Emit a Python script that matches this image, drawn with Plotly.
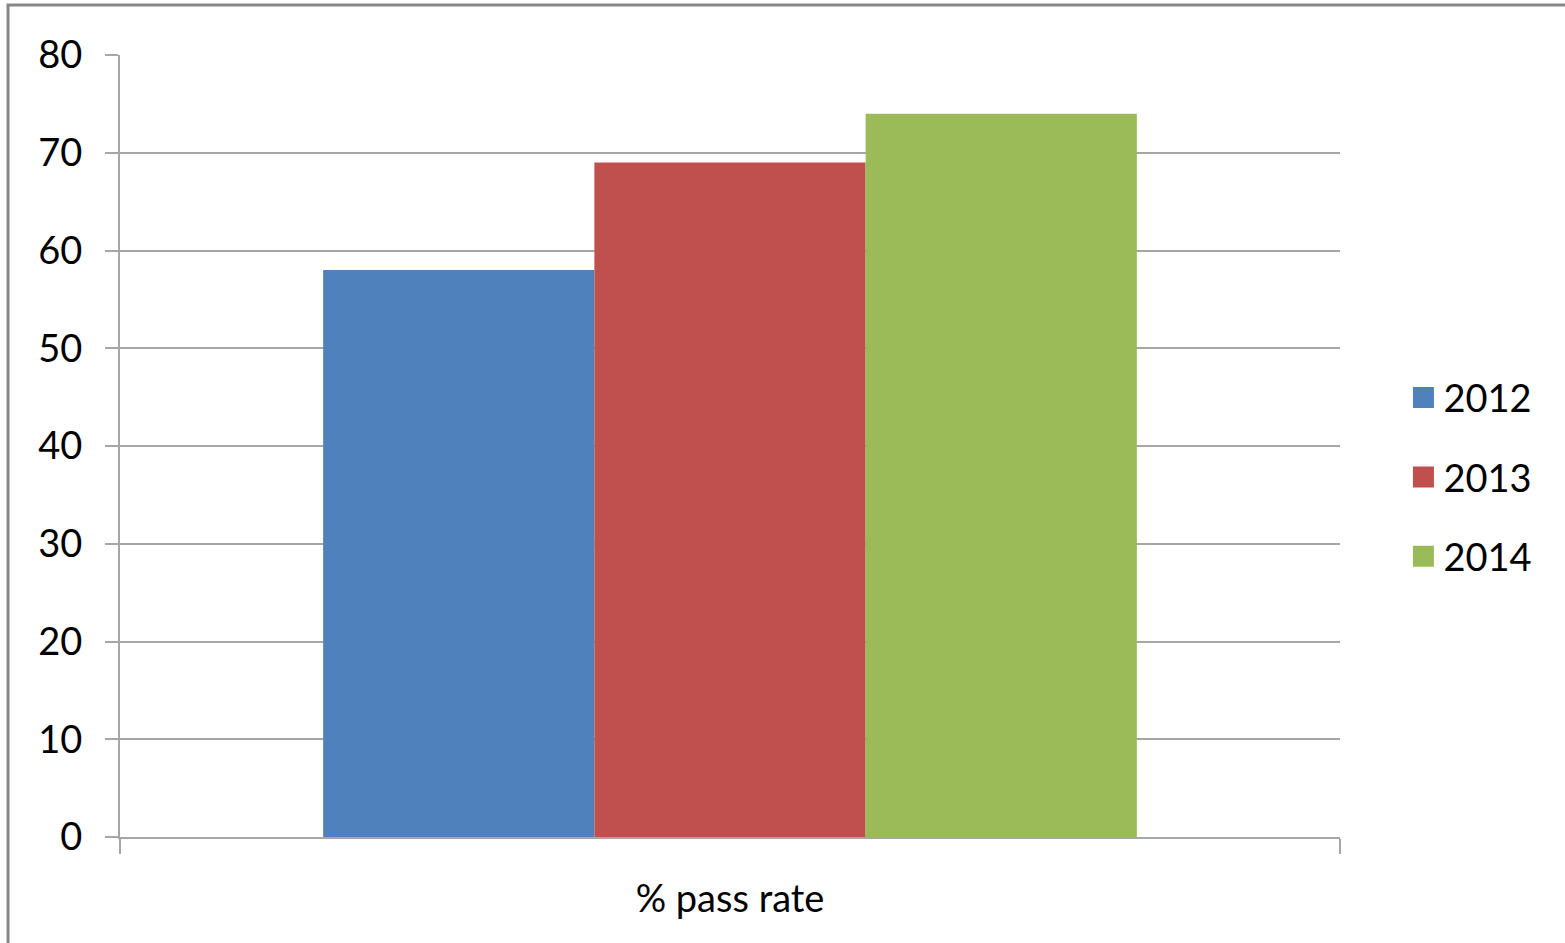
import plotly.graph_objects as go

# Pass-rate data by year
category = ["% pass rate"]
years = ["2012", "2013", "2014"]
pass_rates = [58, 69, 74]
colors = ["#4F81BD", "#C0504D", "#9BBB59"]
y_ticks = [0, 10, 20, 30, 40, 50, 60, 70, 80]

FONT = "Lato"
GRID = "#A6A6A6"

fig = go.Figure()

for yr, val, col in zip(years, pass_rates, colors):
    fig.add_trace(go.Bar(
        x=category, y=[val], name=yr,
        marker=dict(color=col, line=dict(width=0)),
        showlegend=False, hoverinfo="name+y",
    ))
    # square legend swatch (outline in the same colour enlarges it)
    fig.add_trace(go.Scatter(
        x=[None], y=[None], mode="markers", name=yr, legendgroup=yr,
        marker=dict(symbol="square", size=24, color=col,
                    line=dict(color=col, width=8)),
        showlegend=True,
    ))

fig.update_layout(
    width=1565, height=943,
    margin=dict(l=120, r=225, t=55, b=106),
    paper_bgcolor="white", plot_bgcolor="white",
    barmode="group", bargap=0.333, bargroupgap=0,
    font=dict(family=FONT, size=38, color="#000000"),
    legend=dict(
        x=1.052, xanchor="left", y=0.46, yanchor="middle",
        font=dict(family=FONT, size=38, color="#000000"),
        tracegroupgap=27, itemwidth=30,
        bgcolor="rgba(0,0,0,0)",
    ),
    xaxis=dict(
        type="category", range=[-0.5, 0.5],
        showline=True, linecolor=GRID, linewidth=2,
        ticks="outside", tickson="boundaries", ticklen=15,
        tickcolor=GRID, tickwidth=2,
        showgrid=False, ticklabelstandoff=27,
        tickfont=dict(family=FONT, size=38),
    ),
    yaxis=dict(
        range=[0, 80], tickvals=y_ticks,
        showline=True, linecolor=GRID, linewidth=2,
        ticks="outside", ticklen=13, tickcolor=GRID, tickwidth=2,
        showgrid=True, gridcolor=GRID, gridwidth=2,
        zeroline=False, ticklabelstandoff=15,
        tickfont=dict(family=FONT, size=38),
    ),
    shapes=[
        # outer chart frame (left and top edges)
        dict(type="path", xref="paper", yref="paper",
             path="M -0.0918,-0.15 L -0.0918,1.0639 L 1.2,1.0639",
             line=dict(color="#878787", width=3)),
    ],
)

fig.write_html("out.html")
